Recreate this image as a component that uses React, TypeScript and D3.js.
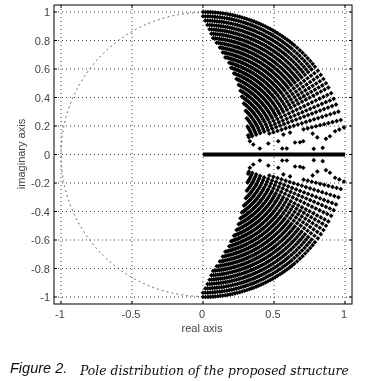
import React from "react";
import * as d3 from "d3";

const W = 368, H = 381;
const gridX = [-1, -0.5, 0, 0.5, 1];
const gridY = [-1, -0.8, -0.6, -0.4, -0.2, 0, 0.2, 0.4, 0.6, 0.8, 1];
const xLabels = ["-1", "-0.5", "0", "0.5", "1"];
const yLabels = ["-1", "-0.8", "-0.6", "-0.4", "-0.2", "0", "0.2", "0.4", "0.6", "0.8", "1"];

// Radii of the pole rings
const ringRadii = [1, 0.97, 0.94, 0.91, 0.88, 0.85, 0.82, 0.79, 0.76, 0.73, 0.70, 0.67, 0.64, 0.61, 0.58, 0.55, 0.52, 0.49, 0.46, 0.43, 0.40, 0.37, 0.345];
// Largest angle on each ring (left edge of the fan), degrees
const ringStart = [90, 90, 89, 88, 87, 86, 85, 83, 81, 79, 77, 74, 72, 69, 66, 63, 60, 56, 52, 46, 40, 32, 24];
// Smallest angle on each ring (lower edge of the fan), degrees
const ringEnd = [14, 14, 14, 14, 14, 14, 14, 14, 14, 14, 15, 15, 15, 15, 16, 16, 17, 17, 18, 18, 19, 20, 20];
// Angles of the pole columns, degrees
const poleAngles = [14, 17.5, 20.5, 23, 25.5, 28, 30, 32, 34, 36, 38, 39.5, 41, 42.5, 44, 45.5, 47, 48.5, 50, 51.2, 52.4, 53.6, 54.8, 56, 57.2, 58.4, 59.5, 60.6, 61.7, 62.8, 63.9, 65, 66, 67, 68, 69, 70, 71, 72, 73, 74, 75, 76, 77, 78, 79, 80, 81, 82, 83, 84, 85, 86, 87, 88, 89, 90];
// Isolated poles near the real axis
const looseRe = [0.33, 0.354, 0.40, 0.46, 0.53, 0.558, 0.59, 0.566, 0.613, 0.648, 0.683, 0.706, 0.772, 0.805, 0.78, 0.843, 0.866, 0.894, 0.93, 0.96, 0.993];
const looseIm = [0.093, 0.07, 0.042, 0.077, 0.093, 0.042, 0.042, 0.14, 0.154, 0.084, 0.086, 0.093, 0.147, 0.12, 0.04, 0.047, 0.11, 0.128, 0.163, 0.175, 0.19];
const realAxisPoles = [0, 1];

const x = d3.scaleLinear().domain([-1, 1]).range([61, 345]);
const y = d3.scaleLinear().domain([-1, 1]).range([297, 12]);
const box = { l: 54, r: 352, t: 5, b: 304 };

const polePts: [number, number][] = [];
ringRadii.forEach((r, i) => {
  poleAngles.forEach((a) => {
    if (a <= ringStart[i] && a >= ringEnd[i]) {
      const t = (a * Math.PI) / 180;
      polePts.push([r * Math.cos(t), r * Math.sin(t)]);
    }
  });
});
looseRe.forEach((re, i) => polePts.push([re, looseIm[i]]));

const diamond = d3.symbol().type(d3.symbolDiamond2).size(14)() as string;
const circlePath = d3.arc()({ innerRadius: 142, outerRadius: 142, startAngle: Math.PI, endAngle: 2 * Math.PI } as any) as string;
const soft = "url(#soft)";

export default function App() {
  return (
    <svg width={W} height={H} style={{ position: "absolute", left: 0, top: 0, background: "#fff" }}>
      <defs>
        <filter id="soft" x="-5%" y="-5%" width="110%" height="110%">
          <feGaussianBlur stdDeviation="0.35" />
        </filter>
      </defs>
      <g filter={soft}>
        {gridX.map((v) => (
          <line key={v} x1={x(v)} x2={x(v)} y1={box.t} y2={box.b} stroke="#444" strokeDasharray="1 3" />
        ))}
        {gridY.map((v) => (
          <line key={v} x1={box.l} x2={box.r} y1={y(v)} y2={y(v)} stroke="#444" strokeDasharray="1 3" />
        ))}
        <path d={circlePath} transform={`translate(${x(0)},${y(0)})`} fill="none" stroke="#555" strokeDasharray="1 4" />
        {polePts.flatMap(([re, im], i) => [
          <path key={`u${i}`} d={diamond} transform={`translate(${x(re)},${y(im)})`} fill="#000" />,
          <path key={`l${i}`} d={diamond} transform={`translate(${x(re)},${y(-im)})`} fill="#000" />,
        ])}
        <line x1={x(realAxisPoles[0])} x2={x(realAxisPoles[1])} y1={y(0)} y2={y(0)} stroke="#000" strokeWidth={4} />
        <rect x={box.l} y={box.t} width={box.r - box.l} height={box.b - box.t} fill="none" stroke="#000" strokeWidth={1} />
        {gridX.map((v) => (
          <g key={v}>
            <line x1={x(v)} x2={x(v)} y1={box.b} y2={box.b - 3} stroke="#000" />
            <line x1={x(v)} x2={x(v)} y1={box.t} y2={box.t + 3} stroke="#000" />
          </g>
        ))}
        {gridY.map((v) => (
          <g key={v}>
            <line x1={box.l} x2={box.l + 3} y1={y(v)} y2={y(v)} stroke="#000" />
            <line x1={box.r} x2={box.r - 3} y1={y(v)} y2={y(v)} stroke="#000" />
          </g>
        ))}
      </g>
      <g filter={soft} fontFamily="Liberation Sans" fontSize={11} fill="#444">
        {gridX.map((v, i) => (
          <text key={v} x={x(v) - 1} y={318} textAnchor="middle">{xLabels[i]}</text>
        ))}
        {gridY.map((v, i) => (
          <text key={v} x={50} y={y(v) + 4} textAnchor="end">{yLabels[i]}</text>
        ))}
        <text x={x(0) - 1} y={332} textAnchor="middle">real axis</text>
        <text transform={`translate(25,154) rotate(-90)`} textAnchor="middle">imaginary axis</text>
      </g>
      <g filter={soft} fill="#111">
        <text x={10} y={373} fontFamily="Liberation Sans" fontStyle="italic" fontSize={14.5}>Figure 2.</text>
        <text x={80} y={375} fontFamily="DejaVu Serif" fontStyle="italic" fontSize={12.4}>Pole distribution of the proposed structure</text>
      </g>
    </svg>
  );
}
